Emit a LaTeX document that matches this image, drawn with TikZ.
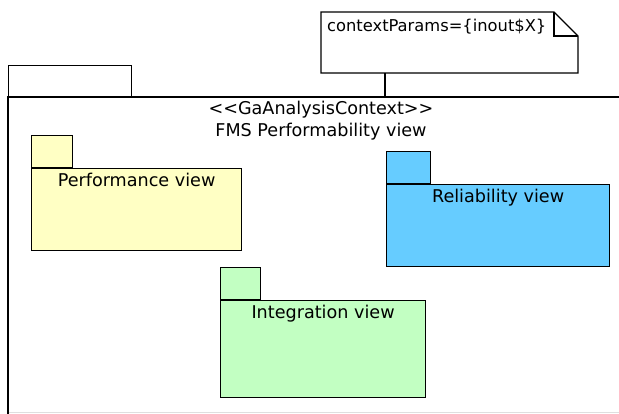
\documentclass[tikz,border=0pt]{standalone}
\usepackage{fontspec}
\setmainfont{DejaVu Sans}
\definecolor{perffill}{HTML}{FFFFC4}
\definecolor{relfill}{HTML}{66CCFF}
\definecolor{intfill}{HTML}{C2FFC2}
\begin{document}
\begin{tikzpicture}[x=1pt,y=-1pt,
  outline/.style={draw=black, line width=1.2pt},
  pkgbody/.style={outline, inner sep=0pt, anchor=north west},
  pkgtab/.style={outline, inner sep=0pt, anchor=south west, minimum height=32},
  lbl/.style={font=\fontsize{17.6}{22}\selectfont, inner sep=0pt, anchor=north}]
\useasboundingbox (0,0) rectangle (619,413);

% enclosing analysis-context package
\draw[gray!25, line width=1pt] (8,412) -- (640,412);
\node[outline, inner sep=0pt, anchor=north west, minimum width=123, minimum height=32] (ctxtab) at (8,65) {};
\coordinate (ctxtop) at (385,97);
\draw[outline] (640,97) -- (8,97) -- (8,430);
\node[lbl, align=center] (ctxtitle) at (321,100.5)
  {<\kern0pt<GaAnalysisContext>\kern0pt>\\FMS Performability view};

% note with folded corner
\coordinate (nA) at (321,12);
\coordinate (nB) at (554,12);
\coordinate (nC) at (578,36);
\coordinate (nD) at (578,73);
\coordinate (nE) at (321,73);
\draw[outline, fill=white] (nA) -- (nB) -- (nC) -- (nD) -- (nE) -- cycle;
\draw[outline] (nB) -- (554,36) -- (nC);
\node[lbl, anchor=north west, font=\fontsize{16.3}{20}\selectfont] (notetext) at (327,18.5) {contextParams=\{inout\$X\}};
\coordinate (noteanchor) at (385,73);
\draw[outline] (noteanchor) -- (ctxtop);

% Performance view
\node[pkgbody, fill=perffill, minimum width=210, minimum height=82] (perf) at (31,168) {};
\node[pkgtab, fill=perffill, minimum width=41] (perftab) at (perf.north west) {};
\node[lbl] (perflbl) at ([yshift=-5]perf.north) {Performance view};

% Reliability view
\node[pkgbody, fill=relfill, minimum width=223, minimum height=82] (rel) at (386,184) {};
\node[pkgtab, fill=relfill, minimum width=44] (reltab) at (rel.north west) {};
\node[lbl] (rellbl) at ([yshift=-5]rel.north) {Reliability view};

% Integration view
\node[pkgbody, fill=intfill, minimum width=205, minimum height=97] (int) at (220,300) {};
\node[pkgtab, fill=intfill, minimum width=40] (inttab) at (int.north west) {};
\node[lbl] (intlbl) at ([yshift=-5]int.north) {Integration view};
\end{tikzpicture}
\end{document}
